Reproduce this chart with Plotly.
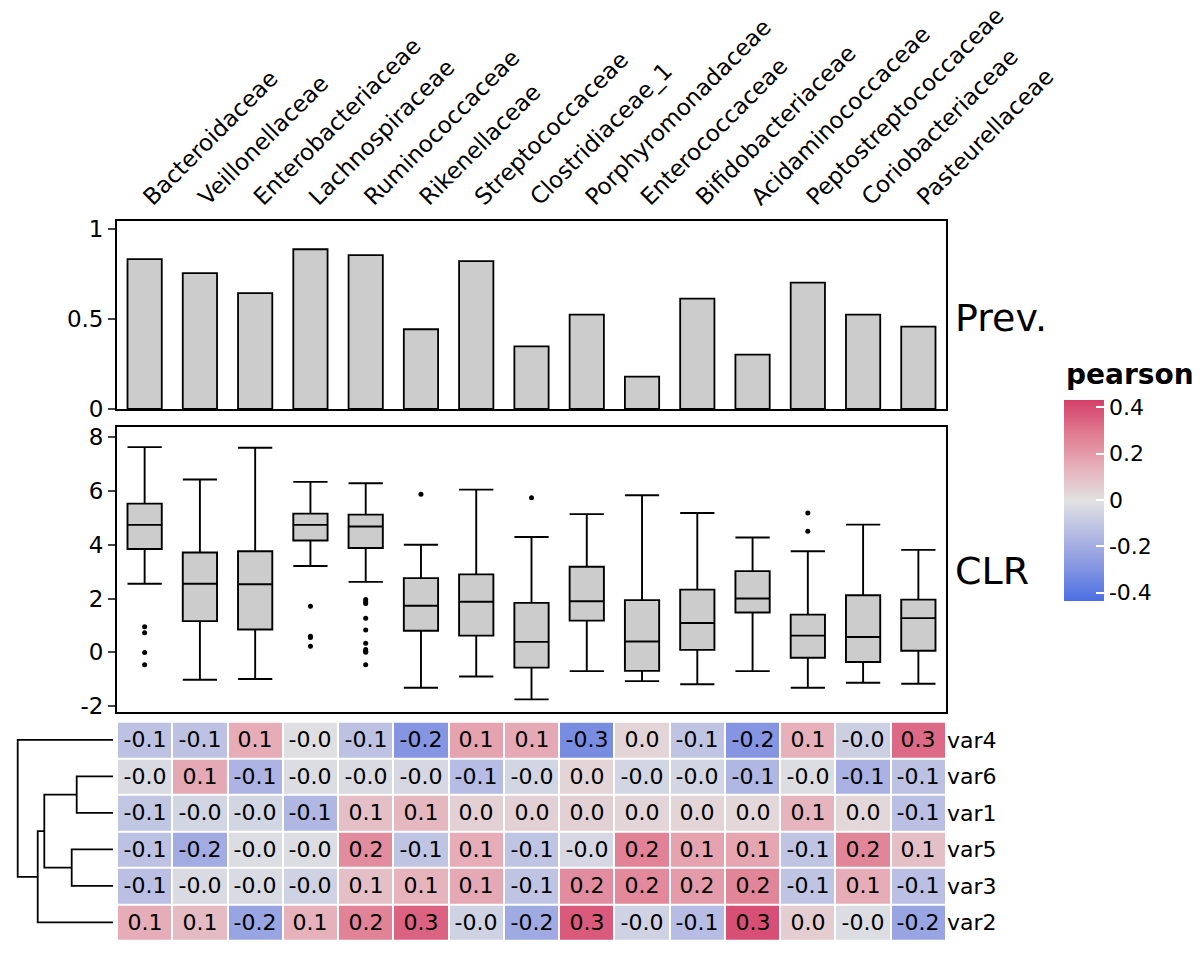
import math
import plotly.graph_objects as go

# Familien (Spalten) und Prävalenz
families = ["Bacteroidaceae", "Veillonellaceae", "Enterobacteriaceae", "Lachnospiraceae",
            "Ruminococcaceae", "Rikenellaceae", "Streptococcaceae", "Clostridiaceae_1",
            "Porphyromonadaceae", "Enterococcaceae", "Bifidobacteriaceae", "Acidaminococcaceae",
            "Peptostreptococcaceae", "Coriobacteriaceae", "Pasteurellaceae"]
prevalence = [0.832, 0.754, 0.643, 0.887, 0.854, 0.443, 0.821, 0.348,
              0.524, 0.18, 0.613, 0.302, 0.702, 0.524, 0.457]

# CLR Boxplot-Statistik
clr_upper = [7.63, 6.43, 7.61, 6.34, 6.29, 4.0, 6.05, 4.29, 5.14, 5.84, 5.18, 4.27, 3.76, 4.75, 3.81]
clr_q3 = [5.53, 3.71, 3.76, 5.16, 5.12, 2.76, 2.9, 1.84, 3.18, 1.94, 2.33, 3.02, 1.40, 2.12, 1.96]
clr_median = [4.74, 2.55, 2.53, 4.74, 4.68, 1.73, 1.88, 0.39, 1.9, 0.40, 1.09, 2.0, 0.62, 0.57, 1.27]
clr_q1 = [3.84, 1.16, 0.85, 4.16, 3.88, 0.8, 0.62, -0.57, 1.18, -0.69, 0.09, 1.48, -0.2, -0.36, 0.06]
clr_lower = [2.55, -1.02, -0.99, 3.21, 2.62, -1.32, -0.9, -1.75, -0.70, -1.07, -1.19, -0.70, -1.32, -1.13, -1.17]
clr_outliers = {
    "Bacteroidaceae": [0.95, 0.73, -0.01, -0.46],
    "Lachnospiraceae": [1.71, 0.6, 0.55, 0.23],
    "Ruminococcaceae": [1.96, 1.88, 1.82, 1.27, 0.83, 0.34, 0.1, 0.04, 0.0, -0.46],
    "Rikenellaceae": [5.88],
    "Clostridiaceae_1": [5.75],
    "Peptostreptococcaceae": [5.18, 4.5],
}
clr_ticks = [-2, 0, 2, 4, 6, 8]

# Korrelationen (pearson), Zeilen in Reihenfolge des Dendrogramms
var_rows = ["var4", "var6", "var1", "var5", "var3", "var2"]
corr_var4 = [-0.12, -0.12, 0.15, -0.01, -0.12, -0.29, 0.18, 0.16, -0.32, 0.04, -0.11, -0.29, 0.14, -0.07, 0.33]
corr_var6 = [-0.03, 0.16, -0.17, -0.02, -0.03, -0.04, -0.14, -0.05, 0.04, -0.05, -0.05, -0.16, -0.02, -0.18, -0.12]
corr_var1 = [-0.105, -0.05, -0.05, -0.16, 0.10, 0.12, 0.05, 0.05, 0.05, 0.04, 0.04, 0.03, 0.13, 0.03, -0.13]
corr_var5 = [-0.12, -0.2, -0.02, -0.02, 0.24, -0.11, 0.15, -0.11, -0.04, 0.27, 0.18, 0.17, -0.11, 0.26, 0.10]
corr_var3 = [-0.13, -0.03, -0.03, -0.06, 0.10, 0.13, 0.16, -0.11, 0.24, 0.25, 0.2, 0.26, -0.11, 0.15, -0.13]
corr_var2 = [0.15, 0.11, -0.23, 0.14, 0.27, 0.35, -0.06, -0.21, 0.37, -0.06, -0.14, 0.395, 0.06, -0.02, -0.23]
corr_rows = [corr_var4, corr_var6, corr_var1, corr_var5, corr_var3, corr_var2]
corr_limit = 0.434
colorbar_ticks = [-0.4, -0.2, 0, 0.2, 0.4]
colorbar_labels = ["-0.4", "-0.2", "0", "0.2", "0.4"]

# Dendrogramm: (links, rechts, Höhe); int = Index eines früheren Merges
dendro_merges = [("var6", "var1", 0.363), ("var5", "var3", 0.413), (0, 1, 0.687),
                 (2, "var2", 0.753), ("var4", 3, 0.953)]

W, H = 1200, 960
OFF = 8  # Seitenrand der HTML-Seite
FONT = "DejaVu Sans"
CB_LEFT, CB_TOP, CB_BOTTOM, CB_W = 1064, 399.5, 600.5, 40


def px_x(x):
    return (x - OFF) / W


def px_yy(y):
    return 1 - (y - OFF) / H


def px_y(top, bottom):
    return [px_yy(bottom), px_yy(top)]


x_dom = [px_x(117), px_x(946)]


def trunc_label(v):
    t = math.trunc(round(v * 10, 6)) / 10
    return f"{math.copysign(t, v):.1f}"


def dendro_lines():
    xs, ys = [], []
    nodes = []
    def pos(n):
        if isinstance(n, str):
            return var_rows.index(n), 0.0
        return nodes[n]
    for a, b, h in dendro_merges:
        ya, ha = pos(a)
        yb, hb = pos(b)
        xs += [ha, h, h, hb, None]
        ys += [ya, ya, yb, yb, None]
        nodes.append(((ya + yb) / 2, h))
    return xs, ys


fig = go.Figure()

# Prävalenz Balken
fig.add_trace(go.Bar(
    x=families, y=prevalence, width=0.62,
    marker=dict(color="#CCCCCC", line=dict(color="black", width=1.8)),
    xaxis="x", yaxis="y"
))

# CLR Boxplots
fig.add_trace(go.Box(
    x=families, q1=clr_q1, median=clr_median, q3=clr_q3,
    lowerfence=clr_lower, upperfence=clr_upper,
    width=0.62, whiskerwidth=1, boxpoints=False,
    fillcolor="#CCCCCC", line=dict(color="black", width=1.9),
    xaxis="x2", yaxis="y2"
))
out_x, out_y = [], []
for fam, vals in clr_outliers.items():
    out_x += [fam] * len(vals)
    out_y += vals
fig.add_trace(go.Scatter(
    x=out_x, y=out_y, mode="markers",
    marker=dict(color="black", size=5),
    xaxis="x2", yaxis="y2"
))

# Heatmap
blue_red = ["#4A6FE3", "#8595E1", "#B5BBE3", "#E2E2E2", "#E6AFB9", "#E07B91", "#D33F6A"]
fig.add_trace(go.Heatmap(
    z=corr_rows, x=families, y=list(range(len(var_rows))),
    text=[[trunc_label(v) for v in row] for row in corr_rows],
    texttemplate="%{text}", textfont=dict(size=22, color="black", family=FONT),
    colorscale=[[i / 6, c] for i, c in enumerate(blue_red)],
    zmin=-corr_limit, zmax=corr_limit, xgap=2, ygap=2,
    colorbar=dict(
        x=px_x(CB_LEFT), xanchor="left", y=px_yy(CB_TOP), yanchor="top",
        len=CB_BOTTOM - CB_TOP, lenmode="pixels", thickness=CB_W, thicknessmode="pixels",
        xpad=0, ypad=0, outlinewidth=0,
        tickvals=colorbar_ticks, ticktext=colorbar_labels,
        ticks="inside", tickcolor="white", ticklen=8, tickwidth=1.5,
        tickfont=dict(size=22, family=FONT, color="black")
    ),
    xaxis="x3", yaxis="y3"
))

# Dendrogramm
dx, dy = dendro_lines()
fig.add_trace(go.Scatter(
    x=dx, y=dy, mode="lines", line=dict(color="black", width=1.8),
    xaxis="x4", yaxis="y4"
))

axis_common = dict(showgrid=False, zeroline=False, linecolor="black", linewidth=1.8,
                   automargin=False, tickfont=dict(size=23, family=FONT, color="black"))
cat_range = [-0.5, len(families) - 0.5]

fig.update_layout(
    width=W, height=H, margin=dict(l=0, r=0, t=0, b=0, autoexpand=False),
    paper_bgcolor="white", plot_bgcolor="white", showlegend=False,
    font=dict(family=FONT, color="black"),
    xaxis=dict(domain=x_dom, range=cat_range, side="top", tickangle=-45, ticks="",
               showline=True, mirror=True, **axis_common),
    yaxis=dict(domain=px_y(221, 409), range=[0, 1.044], tickvals=[0, 0.5, 1],
               ticktext=["0", "0.5", "1"], ticks="outside", ticklen=7, tickwidth=1.6,
               showline=True, mirror=True, **axis_common),
    xaxis2=dict(domain=x_dom, range=cat_range, showticklabels=False, ticks="",
                showline=True, mirror=True, anchor="y2", **axis_common),
    yaxis2=dict(domain=px_y(427, 712), range=[-2.22, 8.38], tickvals=clr_ticks,
                ticktext=[str(t) for t in clr_ticks],
                ticks="outside", ticklen=7, tickwidth=1.6,
                showline=True, mirror=True, anchor="x2", **axis_common),
    xaxis3=dict(domain=x_dom, range=cat_range, showticklabels=False, ticks="",
                showline=False, anchor="y3", **axis_common),
    yaxis3=dict(domain=px_y(721.7, 940.7), range=[len(var_rows) - 0.5, -0.5],
                tickvals=list(range(len(var_rows))), ticktext=var_rows, side="right",
                ticks="", showline=False, anchor="x3", **axis_common),
    xaxis4=dict(domain=[px_x(14), px_x(114)], range=[0.99, -0.01], visible=False,
                anchor="y4", automargin=False),
    yaxis4=dict(domain=px_y(721.7, 940.7), range=[len(var_rows) - 0.5, -0.5],
                visible=False, anchor="x4", automargin=False),
)
fig.update_layout(yaxis3_tickfont_size=22)

# Legendentitel
fig.add_annotation(text="<b>pearson</b>", x=px_x(CB_LEFT), y=px_yy(374), xref="paper", yref="paper",
                   xanchor="left", yanchor="middle", showarrow=False,
                   font=dict(size=28, family=FONT, color="black"))

# weiße Ticks auf der linken Seite der Farbskala
for t in colorbar_ticks:
    ty = CB_BOTTOM - (t + corr_limit) / (2 * corr_limit) * (CB_BOTTOM - CB_TOP)
    fig.add_shape(type="line", xref="paper", yref="paper",
                  x0=px_x(CB_LEFT), x1=px_x(CB_LEFT + 8), y0=px_yy(ty), y1=px_yy(ty),
                  line=dict(color="white", width=1.5))

fig.add_annotation(text="Prev.", x=px_x(953), y=px_yy(318), xref="paper", yref="paper",
                   xanchor="left", yanchor="middle", showarrow=False,
                   font=dict(size=38, family=FONT, color="black"))
fig.add_annotation(text="CLR", x=px_x(953), y=px_yy(571), xref="paper", yref="paper",
                   xanchor="left", yanchor="middle", showarrow=False,
                   font=dict(size=38, family=FONT, color="black"))

fig.write_html("out.html")
